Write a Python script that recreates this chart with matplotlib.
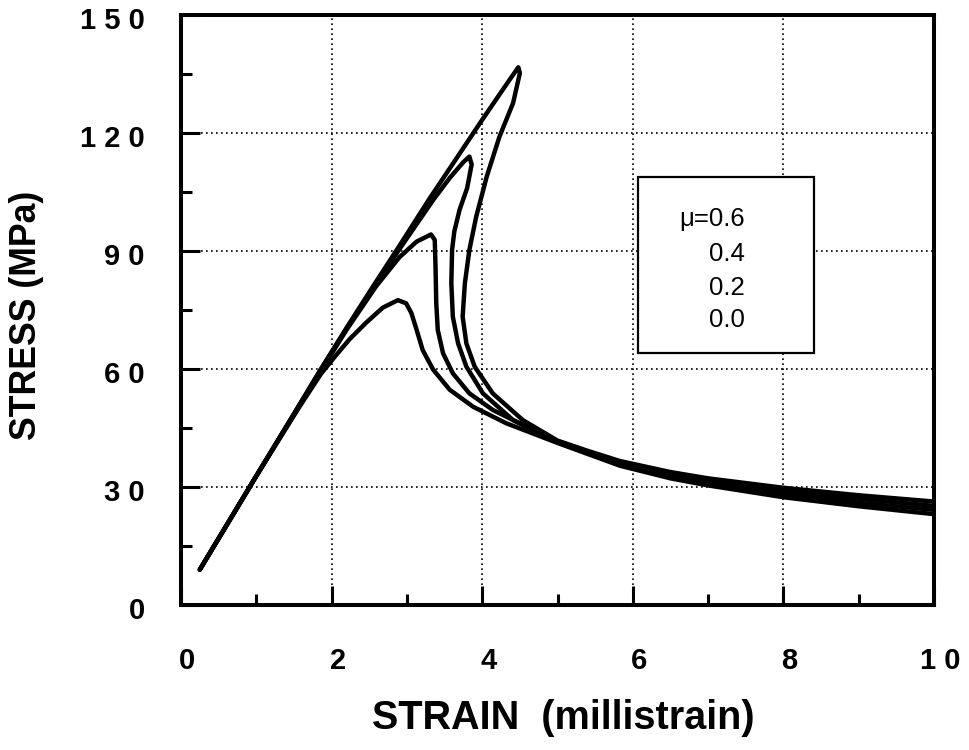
import matplotlib
matplotlib.use("Agg")
import matplotlib.pyplot as plt
from matplotlib.patches import Rectangle
from matplotlib.ticker import MultipleLocator
from matplotlib.transforms import ScaledTranslation

# ---- data ----
mu_labels = ["\u03bc=0.6", "0.4", "0.2", "0.0"]

strain_mu06 = [0.25, 1.0, 1.57, 1.86, 2.2, 2.55, 2.90, 3.30, 3.66, 3.97, 4.23, 4.41, 4.48, 4.50,
               4.41, 4.23, 4.06, 3.92, 3.83, 3.77, 3.74, 3.79, 3.90, 4.14, 4.54, 5.0, 5.4,
               5.83, 6.5, 7.0, 8.0, 9.0, 10.0]
stress_mu06 = [9, 32.8, 50.8, 60, 70.5, 81.0, 91.3, 103.3, 113.6, 122.5, 129.8, 134.8, 136.7, 135.2,
               127.6, 119.1, 108.9, 98.7, 90.3, 81.8, 73.3, 66.5, 60.6, 53.8, 47.0, 41.8, 39.2,
               36.6, 33.8, 32.2, 29.8, 27.9, 26.3]

strain_mu04 = [0.25, 1.0, 1.57, 1.86, 2.2, 2.55, 2.92, 3.35, 3.57, 3.75, 3.83, 3.86, 3.80,
               3.70, 3.63, 3.60, 3.59, 3.61, 3.68, 3.79, 4.01, 4.41, 5.0, 5.4,
               5.83, 6.5, 7.0, 8.0, 9.0, 10.0]
stress_mu04 = [9, 32.8, 50.8, 60, 70.3, 80.6, 91.0, 103.0, 108.6, 112.6, 114, 112, 106,
               100.5, 95, 90.3, 81.8, 73.3, 66.5, 60.6, 53.8, 47.0, 41.6, 38.9,
               36.2, 33.3, 31.6, 29.0, 27.0, 25.2]

strain_mu02 = [0.25, 1.0, 1.57, 1.86, 2.2, 2.59, 2.90, 3.13, 3.32, 3.37, 3.38, 3.39, 3.41,
               3.48, 3.61, 3.83, 4.14, 4.59, 5.0, 5.4, 5.83, 6.5, 7.0, 8.0, 9.0, 10.0]
stress_mu02 = [9, 32.8, 50.6, 59.6, 70.0, 81.0, 88.4, 92.4, 94.2, 92.8, 86.0, 76.7, 69.9,
               64.0, 58.9, 53.8, 49.6, 45.3, 41.4, 38.7, 35.8, 32.7, 31.0, 28.2, 26.0, 24.2]

strain_mu00 = [0.25, 1.0, 1.57, 1.86, 2.05, 2.24, 2.46, 2.68, 2.88, 2.99, 3.06, 3.13, 3.21,
               3.35, 3.57, 3.88, 4.32, 5.0, 5.4, 5.83, 6.5, 7.0, 8.0, 9.0, 10.0]
stress_mu00 = [9, 32.8, 50.3, 58.8, 63.3, 67.6, 71.8, 75.6, 77.5, 76.7, 74.2, 69.9, 64.8,
               59.8, 54.7, 50.4, 46.2, 41.2, 38.4, 35.4, 32.2, 30.4, 27.4, 25.1, 23.1]

xtick_values = [0, 2, 4, 6, 8, 10]
ytick_values = [0, 30, 60, 90, 120, 150]

# ---- figure ----
fig = plt.figure(figsize=(9.7, 7.5), dpi=100)
ax = fig.add_axes([181 / 970, 1 - 605 / 750, (934 - 181) / 970, (605 - 15) / 750])

for xs, ys in [(strain_mu06, stress_mu06), (strain_mu04, stress_mu04),
               (strain_mu02, stress_mu02), (strain_mu00, stress_mu00)]:
    ax.plot(xs, ys, color="black", lw=3.2, solid_joinstyle="round",
            solid_capstyle="round", zorder=3)

ax.set_xlim(0, 10)
ax.set_ylim(0, 150)
ax.set_xticks(xtick_values)
ax.set_yticks(ytick_values)
ax.xaxis.set_minor_locator(MultipleLocator(1))
ax.yaxis.set_minor_locator(MultipleLocator(15))
ax.set_xticklabels([" ".join(str(v)) for v in xtick_values],
                   fontfamily="Liberation Sans", fontweight="bold", fontsize=21)
ax.set_yticklabels([" ".join(str(v)) for v in ytick_values],
                   fontfamily="Liberation Sans", fontweight="bold", fontsize=21)
ax.tick_params(which="major", direction="in", length=14, width=2.2, colors="black")
ax.tick_params(which="minor", direction="in", length=8, width=2.2)
ax.tick_params(axis="x", which="major", pad=30)
ax.tick_params(axis="y", which="major", pad=26)
for lab in ax.get_xticklabels():
    lab.set_transform(lab.get_transform() + ScaledTranslation(6 / 100, 0, fig.dpi_scale_trans))
for lab in ax.get_yticklabels():
    lab.set_transform(lab.get_transform() + ScaledTranslation(0, -3 / 100, fig.dpi_scale_trans))
for s in ax.spines.values():
    s.set_linewidth(2.9)
    s.set_color("black")

ax.grid(True, which="major", color="black", linestyle=(0, (1, 2)), linewidth=1.2)

# legend box with text only
ax.add_patch(Rectangle((6.07, 64.1), 2.33, 44.7, fill=True, facecolor="white",
                       edgecolor="black", lw=1.6, zorder=4))
legend_y = [98.1, 89.2, 80.6, 72.4]
for lbl, yy in zip(mu_labels, legend_y):
    ax.text(7.49, yy, lbl, ha="right", va="center", fontsize=18.5,
            fontfamily=["Liberation Sans", "DejaVu Sans"], zorder=5)

fig.text(372 / 970, 1 - 718 / 750, "STRAIN  (millistrain)", ha="left", va="center",
         fontfamily="Liberation Sans", fontweight="bold", fontsize=28.5)
fig.text(27 / 970, 1 - 315 / 750, "STRESS (MPa)", ha="center", va="center", rotation=90,
         fontfamily="Liberation Sans", fontweight="bold", fontsize=25.7)

fig.savefig("out.png", dpi=100, facecolor="white")
